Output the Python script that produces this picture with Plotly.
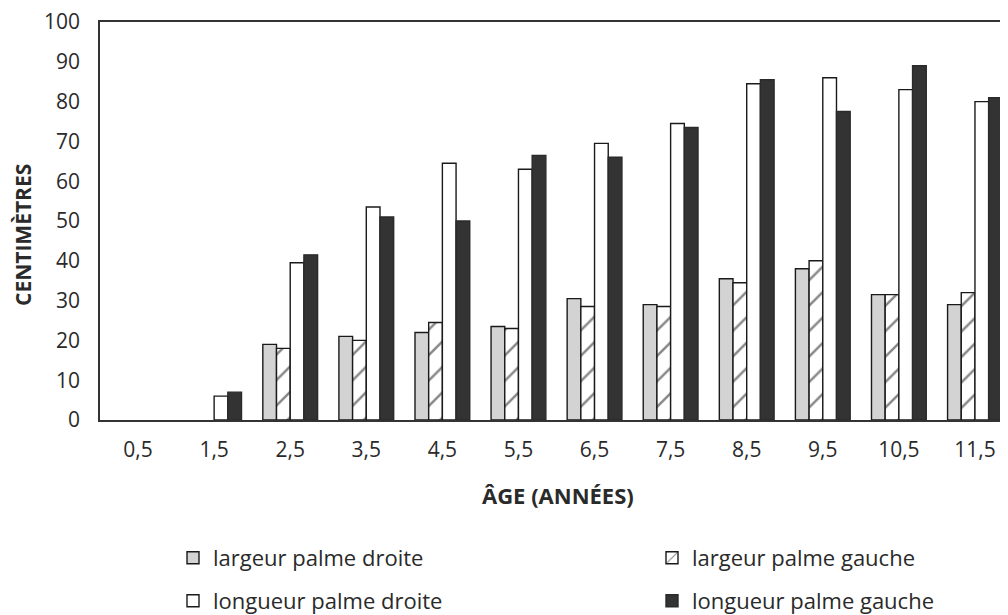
import plotly.graph_objects as go

ages = ["0,5", "1,5", "2,5", "3,5", "4,5", "5,5", "6,5", "7,5", "8,5", "9,5", "10,5", "11,5"]
largeur_droite = [None, None, 19, 21, 22, 23.5, 30.5, 29, 35.5, 38, 31.5, 29]
largeur_gauche = [None, None, 18, 20, 24.5, 23, 28.5, 28.5, 34.5, 40, 31.5, 32]
longueur_droite = [None, 6, 39.5, 53.5, 64.5, 63, 69.5, 74.5, 84.5, 86, 83, 80]
longueur_gauche = [None, 7, 41.5, 51, 50, 66.5, 66, 73.5, 85.5, 77.5, 89, 81]

# The page body has an 8px default margin, so layout is offset by -8px.
OFF = 8
W, H = 1008, 615
L, T = 100 - OFF, 22 - OFF
BOTTOM = 420 - OFF
RIGHT = 1013 - OFF
B = H - BOTTOM
R = W - RIGHT
plot_h = BOTTOM - T
plot_w = RIGHT - L

def py(pix):
    return (BOTTOM - (pix - OFF)) / plot_h

def px(pix):
    return ((pix - OFF) - L) / plot_w

FAM = "Open Sans, DejaVu Sans, sans-serif"
TXT = "#2a2a2a"
tick_font = dict(family=FAM, size=21, color=TXT)
leg_font = dict(family=FAM, size=22, color=TXT)
title_font = dict(family=FAM, size=22, color=TXT)
ytitle_font = dict(family=FAM, size=21, color=TXT)
line = dict(color="#1a1a1a", width=1.4)

fig = go.Figure()
fig.add_trace(go.Bar(x=ages, y=largeur_droite, name="largeur palme droite",
                     marker=dict(color="#d3d3d3", line=line), legend="legend"))
fig.add_trace(go.Bar(x=ages, y=largeur_gauche, name="largeur palme gauche",
                     marker=dict(color="white", line=line,
                                 pattern=dict(shape="/", fgcolor="#111111", bgcolor="white",
                                              size=18, solidity=0.14)),
                     legend="legend2"))
fig.add_trace(go.Bar(x=ages, y=longueur_droite, name="longueur palme droite",
                     marker=dict(color="white", line=line), legend="legend3"))
fig.add_trace(go.Bar(x=ages, y=longueur_gauche, name="longueur palme gauche",
                     marker=dict(color="#333333", line=dict(color="#2a2a2a", width=1.4)),
                     legend="legend4"))

def leg(text_start_pix, ypix):
    return dict(orientation="h", xref="container", yref="container",
                x=(text_start_pix - OFF - 40) / W, y=1 - (ypix - OFF) / H,
                xanchor="left", yanchor="middle",
                font=leg_font, bgcolor="rgba(0,0,0,0)")

fig.update_layout(
    width=W, height=H,
    margin=dict(l=L, r=R, t=T, b=B, autoexpand=False),
    paper_bgcolor="white", plot_bgcolor="white",
    font=dict(family=FAM, size=20, color=TXT),
    showlegend=True,
    barmode="group", bargap=0.28, bargroupgap=0,
    legend=leg(213, 558),
    legend2=leg(692, 558),
    legend3=leg(213, 601),
    legend4=leg(692, 601),
    xaxis=dict(range=[-0.5, 11.5], showline=True, linecolor="#333333", linewidth=1.5,
               mirror=True, ticks="outside", ticklen=10, tickcolor="rgba(0,0,0,0)",
               showgrid=False, tickfont=tick_font, automargin=False,
               ticklabeloverflow="allow"),
    yaxis=dict(range=[0, 100], dtick=10, showline=True, linecolor="#333333", linewidth=1.5,
               mirror=False, ticks="outside", ticklen=14, tickcolor="rgba(0,0,0,0)",
               showgrid=False, zeroline=False, tickfont=tick_font, automargin=False,
               ticklabeloverflow="allow"),
    annotations=[
        dict(text="<b>ÂGE (ANNÉES)</b>", xref="paper", yref="paper",
             x=px(558), y=py(495), xanchor="center", yanchor="middle",
             showarrow=False, font=title_font),
        dict(text="<b>CENTIMÈTRES</b>", xref="paper", yref="paper", textangle=-90,
             x=px(23), y=py(235), xanchor="center", yanchor="middle",
             showarrow=False, font=ytitle_font),
    ],
)

fig.write_html("out.html")
